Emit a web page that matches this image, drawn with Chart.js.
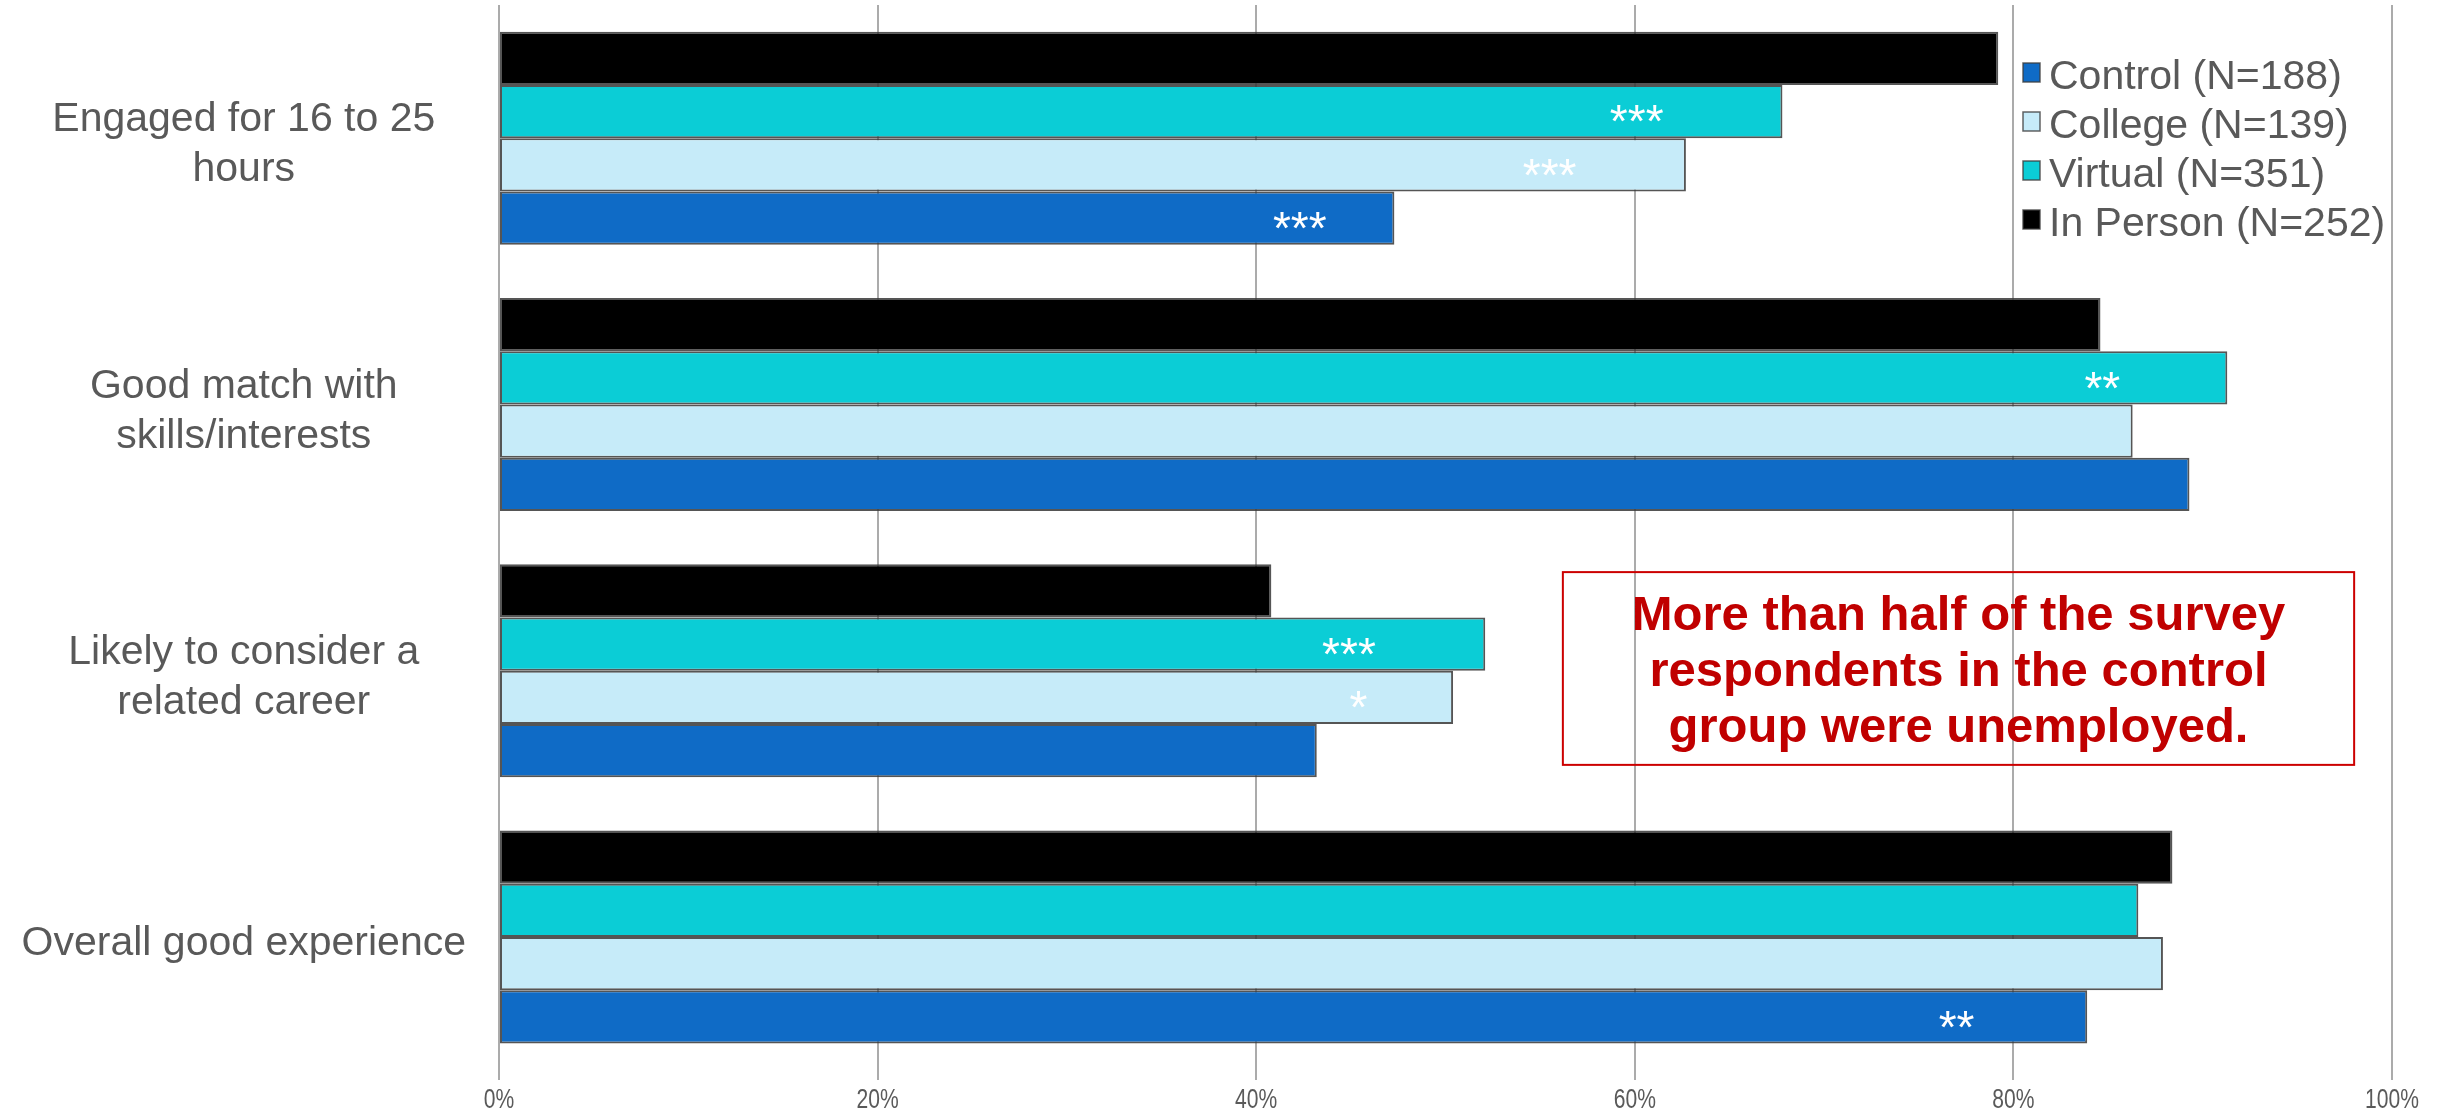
<!DOCTYPE html>
<html><head><meta charset="utf-8">
<script src="https://cdn.jsdelivr.net/npm/chart.js@4/dist/chart.umd.min.js"></script>
<style>html,body{margin:0;padding:0;background:#fff;overflow:hidden;}</style>
</head><body>
<canvas id="c" width="2453" height="1117"></canvas>
<script>
// ---- data ----
const categories = [["Engaged for 16 to 25","hours"],["Good match with","skills/interests"],["Likely to consider a","related career"],"Overall good experience"];
const seriesNames = ["In Person (N=252)","Virtual (N=351)","College (N=139)","Control (N=188)"];
const inPerson = [79.2, 84.6, 40.8, 88.4];
const virtualS = [67.8, 91.3, 52.1, 86.6];
const college  = [62.7, 86.3, 50.4, 87.9];
const control  = [47.3, 89.3, 43.2, 83.9];
const xTicks = [0, 20, 40, 60, 80, 100];
// significance markers
const sigSeries   = [1, 2, 3, 1, 1, 2, 3];
const sigCategory = [0, 0, 0, 1, 2, 2, 3];
const sigText     = ["***", "***", "***", "**", "***", "*", "**"];
const sigAt       = [60.1, 55.5, 42.3, 84.7, 44.9, 45.4, 77.0];
// annotation (data units)
const noteLines = ["More than half of the survey", "respondents in the control", "group were unemployed."];
const noteBox = {xMin: 56.2, xMax: 98.0, yMin: 1.63, yMax: 2.354};

const colors = ["#000000", "#0BCDD6", "#C6EBF9", "#0F6BC6"];
const seriesValues = [inPerson, virtualS, college, control];

const overlay = {
  id: 'overlay',
  afterDatasetsDraw(chart) {
    const ctx = chart.ctx;
    const xs = chart.scales.x;
    ctx.save();
    ctx.fillStyle = '#FFFFFF';
    ctx.textAlign = 'center';
    ctx.textBaseline = 'alphabetic';
    const fs = 46;
    ctx.font = fs + 'px "Liberation Sans", Arial, sans-serif';
    for (let i = 0; i < sigText.length; i++) {
      const bar = chart.getDatasetMeta(sigSeries[i]).data[sigCategory[i]];
      const x = xs.getPixelForValue(sigAt[i]);
      ctx.fillText(sigText[i], x, bar.y + 0.56 * fs);
    }
    ctx.restore();
  },
  afterDraw(chart) {
    const ctx = chart.ctx;
    const xs = chart.scales.x, ys = chart.scales.y;
    ctx.save();
    // x tick labels (narrow)
    ctx.fillStyle = '#5A5A5A';
    ctx.font = '27px "Liberation Sans", Arial, sans-serif';
    ctx.textAlign = 'center';
    ctx.textBaseline = 'middle';
    xTicks.forEach(v => {
      ctx.save();
      ctx.translate(xs.getPixelForValue(v), 1101);
      ctx.scale(0.78, 1);
      ctx.fillText(v + '%', 0, 0);
      ctx.restore();
    });
    // legend (reverse order of datasets)
    ctx.font = '41px "Liberation Sans", Arial, sans-serif';
    ctx.textAlign = 'left';
    ctx.textBaseline = 'alphabetic';
    const order = [3, 2, 1, 0];
    order.forEach((d, i) => {
      const base = 89 + i * 49;
      ctx.fillStyle = colors[d];
      ctx.fillRect(2023, base - 26, 17, 19);
      ctx.strokeStyle = 'rgba(60,60,60,0.8)';
      ctx.lineWidth = 1.5;
      ctx.strokeRect(2023, base - 26, 17, 19);
      ctx.fillStyle = '#595959';
      ctx.fillText(chart.data.datasets[d].label, 2049, base);
    });
    // annotation box
    const x1 = xs.getPixelForValue(noteBox.xMin), x2 = xs.getPixelForValue(noteBox.xMax);
    const y1 = ys.getPixelForValue(noteBox.yMin), y2 = ys.getPixelForValue(noteBox.yMax);
    ctx.strokeStyle = '#CC0000';
    ctx.lineWidth = 2;
    ctx.strokeRect(x1, y1, x2 - x1, y2 - y1);
    ctx.fillStyle = '#C00000';
    ctx.font = 'bold 49px "Liberation Sans", Arial, sans-serif';
    ctx.textAlign = 'center';
    const cx = (x1 + x2) / 2, cy = (y1 + y2) / 2;
    noteLines.forEach((t, i) => {
      ctx.fillText(t, cx, cy + (i - 1) * 56 + 17.5);
    });
    ctx.restore();
  }
};

new Chart(document.getElementById('c'), {
  type: 'bar',
  data: {
    labels: categories,
    datasets: seriesNames.map((n, i) => ({
      label: n,
      data: seriesValues[i],
      backgroundColor: colors[i],
      borderColor: 'rgba(55,55,55,0.85)',
      borderWidth: 2,
      borderSkipped: false,
      categoryPercentage: 0.8,
      barPercentage: 1.0
    }))
  },
  options: {
    indexAxis: 'y',
    responsive: false,
    animation: false,
    devicePixelRatio: 1,
    layout: {padding: {top: 5, right: 61, bottom: 0, left: 0}},
    plugins: {legend: {display: false}, tooltip: {enabled: false}},
    scales: {
      x: {
        min: 0, max: 100,
        afterBuildTicks(scale) { scale.ticks = xTicks.map(v => ({value: v})); },
        afterFit(scale) { scale.height = 47; scale.paddingLeft = 0; scale.paddingRight = 0; },
        grid: {color: '#ABABAB', lineWidth: 2, tickLength: 10, tickColor: '#ABABAB', drawTicks: true},
        border: {display: false},
        ticks: {display: false}
      },
      y: {
        afterFit(scale) { scale.width = 499; scale.paddingTop = 0; scale.paddingBottom = 0; },
        grid: {display: false, drawTicks: true, tickLength: 33},
        border: {display: false},
        ticks: {
          crossAlign: 'center',
          padding: 0,
          labelOffset: 7,
          color: '#595959',
          font: {family: '"Liberation Sans", Arial, sans-serif', size: 41, lineHeight: 1.22}
        }
      }
    }
  },
  plugins: [overlay]
});
</script>
</body></html>
